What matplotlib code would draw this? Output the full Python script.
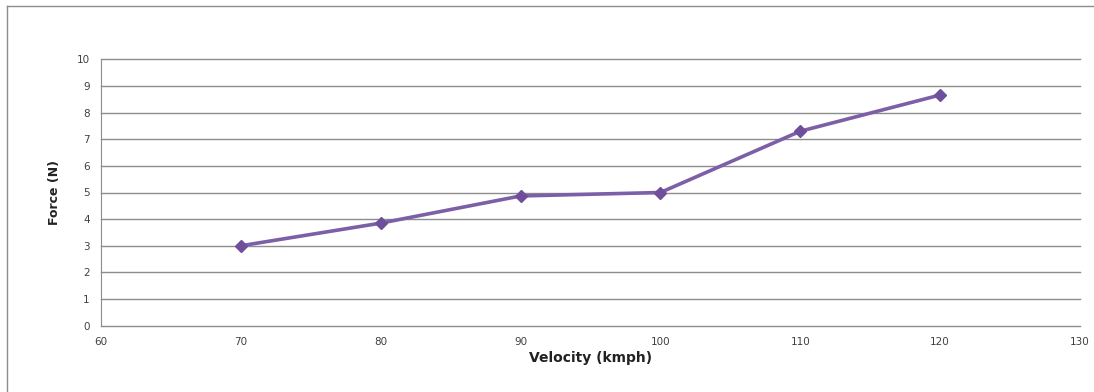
import matplotlib.pyplot as plt
from matplotlib.lines import Line2D

velocity = [70, 80, 90, 100, 110, 120]
force = [3.0, 3.85, 4.87, 5.0, 7.3, 8.66]
x_ticks = [60, 70, 80, 90, 100, 110, 120, 130]
y_ticks = list(range(0, 11))

fig = plt.figure(figsize=(10.94, 3.92), dpi=100)
ax = fig.add_axes([101 / 1094, 1 - 325.7 / 392, (1080 - 101) / 1094, (325.7 - 59.3) / 392])

# grid lines like the Excel chart
ax.set_axisbelow(True)
for y in y_ticks:
    ax.axhline(y, color='#8c8c8c', linewidth=1.0, clip_on=False, zorder=0)
ax.plot(velocity, force, color='#7c5fa6', linewidth=2.6, marker='D', markersize=6.5,
        markerfacecolor='#6f4f9c', markeredgecolor='#6f4f9c', solid_joinstyle='round')

ax.set_xlim(60, 130)
ax.set_ylim(0, 10)
ax.set_xticks(x_ticks)
ax.set_yticks(y_ticks)
ax.tick_params(length=0, labelsize=7.5, colors='#404040', pad=8)
for s in ['top', 'right', 'bottom']:
    ax.spines[s].set_visible(False)
ax.spines['left'].set_color('#8c8c8c')

ax.set_xlabel('Velocity (kmph)', fontsize=10, fontweight='bold', labelpad=3, color='#222222')
ax.set_ylabel('Force (N)', fontsize=9, fontweight='bold', labelpad=11, color='#222222',
              family='DejaVu Sans Condensed')

# outer frame of the chart (left and top only visible)
fig.add_artist(Line2D([7 / 1094, 7 / 1094], [0, 1 - 6 / 392], color='#8c8c8c', linewidth=1.0,
                      transform=fig.transFigure))
fig.add_artist(Line2D([7 / 1094, 1], [1 - 6 / 392, 1 - 6 / 392], color='#8c8c8c', linewidth=1.0,
                      transform=fig.transFigure))

fig.savefig('out.png', dpi=100)
